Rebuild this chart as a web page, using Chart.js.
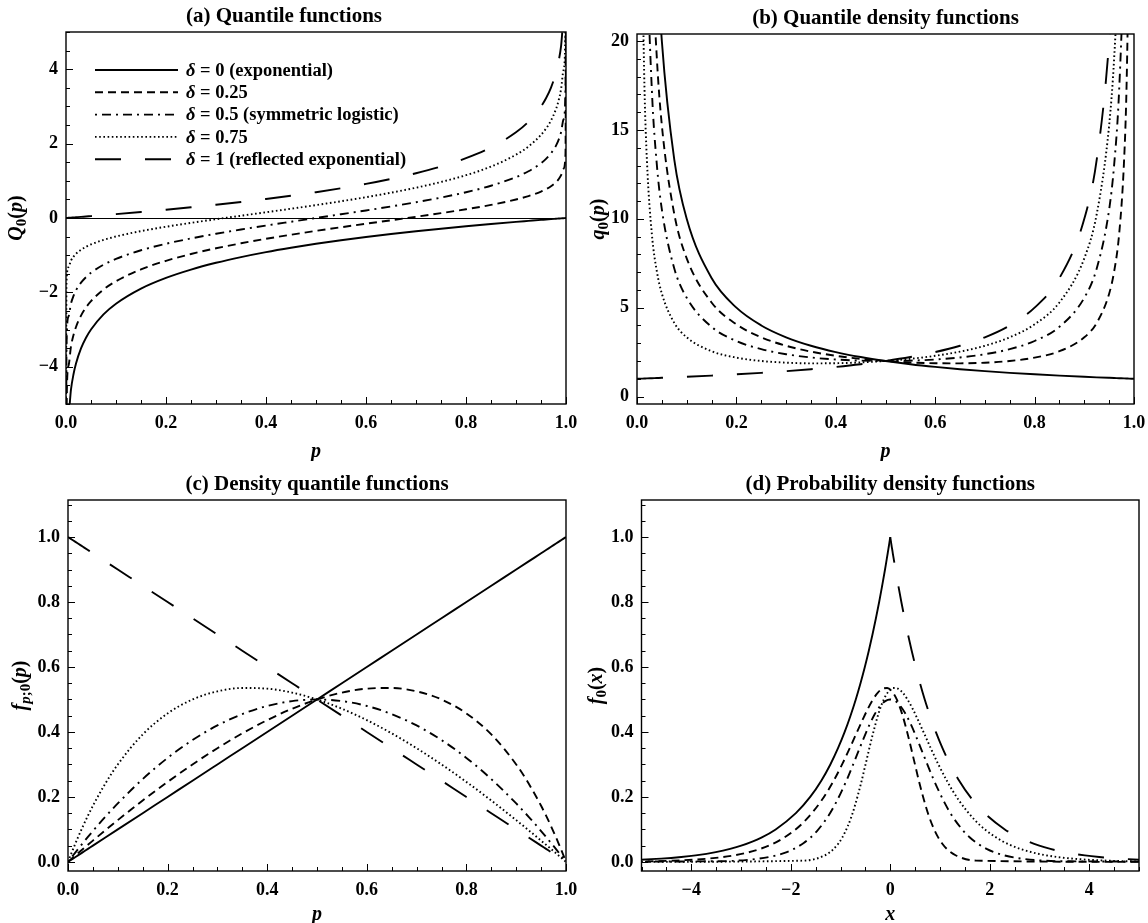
<!DOCTYPE html>
<html>
<head>
<meta charset="utf-8">
<script src="https://cdn.jsdelivr.net/npm/chart.js@4.4.1/dist/chart.umd.min.js"></script>
<style>
	html, body { margin: 0; padding: 0; background: #fff; }
	#wrap { position: relative; width: 1148px; height: 923px; overflow: hidden; }
	canvas { position: absolute; }
</style>
</head>
<body>
<div id="wrap">
	<canvas id="chartA" width="600" height="461" style="left:0;top:0"></canvas>
	<canvas id="chartC" width="600" height="462" style="left:0;top:461px"></canvas>
	<canvas id="chartB" width="574" height="461" style="left:574px;top:0"></canvas>
	<canvas id="chartD" width="574" height="462" style="left:574px;top:461px"></canvas>
</div>
<script>
// probability grid shared by every curve
const pValues = [1e-9, 0.001, 0.005, 0.01, 0.015, 0.02, 0.03, 0.04, 0.05, 0.075, 0.1, 0.15, 0.2, 0.25, 0.3, 0.35, 0.4, 0.45, 0.5,
	0.55, 0.6, 0.65, 0.7, 0.75, 0.8, 0.85, 0.9, 0.925, 0.95, 0.96, 0.97, 0.98, 0.985, 0.99, 0.995, 0.999, 0.999999999];

const seriesLabels = ['δ = 0 (exponential)', 'δ = 0.25', 'δ = 0.5 (symmetric logistic)', 'δ = 0.75', 'δ = 1 (reflected exponential)'];

// (a) quantile functions Q0(p)
const quantileD0 = [-20.723, -6.908, -5.298, -4.605, -4.200, -3.912, -3.507, -3.219, -2.996, -2.590, -2.303, -1.897, -1.609, -1.386, -1.204, -1.050, -0.916, -0.799, -0.693,
	-0.598, -0.511, -0.431, -0.357, -0.288, -0.223, -0.163, -0.105, -0.078, -0.051, -0.041, -0.030, -0.020, -0.015, -0.010, -0.005, -0.001, 0];
const quantileD025 = [-15.542, -5.181, -3.972, -3.451, -3.146, -2.929, -2.623, -2.404, -2.234, -1.923, -1.701, -1.382, -1.151, -0.968, -0.814, -0.680, -0.559, -0.450, -0.347,
	-0.249, -0.154, -0.061, 0.033, 0.131, 0.235, 0.352, 0.497, 0.589, 0.711, 0.774, 0.854, 0.963, 1.039, 1.144, 1.321, 1.726, 5.181];
const quantileD05 = [-10.362, -3.454, -2.647, -2.298, -2.093, -1.946, -1.739, -1.589, -1.473, -1.256, -1.099, -0.867, -0.693, -0.549, -0.424, -0.310, -0.203, -0.101, 0,
	0.101, 0.203, 0.310, 0.424, 0.549, 0.693, 0.867, 1.099, 1.256, 1.473, 1.589, 1.739, 1.946, 2.093, 2.298, 2.647, 3.454, 10.362];
const quantileD075 = [-5.181, -1.726, -1.321, -1.144, -1.039, -0.963, -0.854, -0.774, -0.711, -0.589, -0.497, -0.352, -0.235, -0.131, -0.033, 0.061, 0.154, 0.249, 0.347,
	0.450, 0.559, 0.680, 0.814, 0.968, 1.151, 1.382, 1.701, 1.923, 2.234, 2.404, 2.623, 2.929, 3.146, 3.451, 3.972, 5.181, 15.542];
const quantileD1 = [0, 0.001, 0.005, 0.010, 0.015, 0.020, 0.030, 0.041, 0.051, 0.078, 0.105, 0.163, 0.223, 0.288, 0.357, 0.431, 0.511, 0.598, 0.693,
	0.799, 0.916, 1.050, 1.204, 1.386, 1.609, 1.897, 2.303, 2.590, 2.996, 3.219, 3.507, 3.912, 4.200, 4.605, 5.298, 6.908, 20.723];

// (b) quantile density functions q0(p)
const qdensD0 = [null, 1000, 200, 100, 66.667, 50, 33.333, 25, 20, 13.333, 10, 6.667, 5, 4, 3.333, 2.857, 2.5, 2.222, 2,
	1.818, 1.667, 1.538, 1.429, 1.333, 1.25, 1.176, 1.111, 1.081, 1.053, 1.042, 1.031, 1.020, 1.015, 1.010, 1.005, 1.001, 1];
const qdensD025 = [null, 750.25, 150.25, 75.253, 50.254, 37.755, 25.258, 19.010, 15.263, 10.270, 7.778, 5.294, 4.063, 3.333, 2.857, 2.527, 2.292, 2.121, 2,
	1.919, 1.875, 1.868, 1.905, 2.0, 2.188, 2.549, 3.333, 4.144, 5.789, 7.031, 9.107, 13.265, 17.428, 25.758, 50.754, 250.75, null];
const qdensD05 = [null, 500.5, 100.5, 50.505, 33.841, 25.510, 17.182, 13.021, 10.526, 7.207, 5.556, 3.922, 3.125, 2.667, 2.381, 2.198, 2.083, 2.020, 2,
	2.020, 2.083, 2.198, 2.381, 2.667, 3.125, 3.922, 5.556, 7.207, 10.526, 13.021, 17.182, 25.510, 33.841, 50.505, 100.5, 500.5, null];
const qdensD075 = [null, 250.75, 50.754, 25.758, 17.428, 13.265, 9.107, 7.031, 5.789, 4.144, 3.333, 2.549, 2.188, 2.0, 1.905, 1.868, 1.875, 1.919, 2,
	2.121, 2.292, 2.527, 2.857, 3.333, 4.063, 5.294, 7.778, 10.270, 15.263, 19.010, 25.258, 37.755, 50.254, 75.253, 150.25, 750.25, null];
const qdensD1 = [1, 1.001, 1.005, 1.010, 1.015, 1.020, 1.031, 1.042, 1.053, 1.081, 1.111, 1.176, 1.25, 1.333, 1.429, 1.538, 1.667, 1.818, 2,
	2.222, 2.5, 2.857, 3.333, 4, 5, 6.667, 10, 13.333, 20, 25, 33.333, 50, 66.667, 100, 200, 1000, null];

// (c) density quantile functions f(Q(p)), also the heights in (d)
const dqfD0 = [1e-9, 0.001, 0.005, 0.01, 0.015, 0.02, 0.03, 0.04, 0.05, 0.075, 0.1, 0.15, 0.2, 0.25, 0.3, 0.35, 0.4, 0.45, 0.5,
	0.55, 0.6, 0.65, 0.7, 0.75, 0.8, 0.85, 0.9, 0.925, 0.95, 0.96, 0.97, 0.98, 0.985, 0.99, 0.995, 0.999, 1];
const dqfD025 = [1.3e-9, 0.0013, 0.0067, 0.0133, 0.0199, 0.0265, 0.0396, 0.0526, 0.0655, 0.0974, 0.1286, 0.1889, 0.2462, 0.3, 0.35, 0.3957, 0.4364, 0.4714, 0.5,
	0.5211, 0.5333, 0.5353, 0.525, 0.5, 0.4571, 0.3923, 0.3, 0.2413, 0.1727, 0.1422, 0.1098, 0.0754, 0.0574, 0.0388, 0.0197, 0.004, 4e-9];
const dqfD05 = [2e-9, 0.002, 0.00995, 0.0198, 0.02955, 0.0392, 0.0582, 0.0768, 0.095, 0.1388, 0.18, 0.255, 0.32, 0.375, 0.42, 0.455, 0.48, 0.495, 0.5,
	0.495, 0.48, 0.455, 0.42, 0.375, 0.32, 0.255, 0.18, 0.1388, 0.095, 0.0768, 0.0582, 0.0392, 0.02955, 0.0198, 0.00995, 0.002, 2e-9];
const dqfD075 = [4e-9, 0.004, 0.0197, 0.0388, 0.0574, 0.0754, 0.1098, 0.1422, 0.1727, 0.2413, 0.3, 0.3923, 0.4571, 0.5, 0.525, 0.5353, 0.5333, 0.5211, 0.5,
	0.4714, 0.4364, 0.3957, 0.35, 0.3, 0.2462, 0.1889, 0.1286, 0.0974, 0.0655, 0.0526, 0.0396, 0.0265, 0.0199, 0.0133, 0.0067, 0.0013, 1.3e-9];
const dqfD1 = [1, 0.999, 0.995, 0.99, 0.985, 0.98, 0.97, 0.96, 0.95, 0.925, 0.9, 0.85, 0.8, 0.75, 0.7, 0.65, 0.6, 0.55, 0.5,
	0.45, 0.4, 0.35, 0.3, 0.25, 0.2, 0.15, 0.1, 0.075, 0.05, 0.04, 0.03, 0.02, 0.015, 0.01, 0.005, 0.001, 1e-9];

// tick labels
const ticksP = [0, 0.2, 0.4, 0.6, 0.8, 1];
const ticksQ = [-4, -2, 0, 2, 4];
const ticksQdens = [0, 5, 10, 15, 20];
const ticksF = [0, 0.2, 0.4, 0.6, 0.8, 1];
const ticksX = [-4, -2, 0, 2, 4];

const quantiles = [quantileD0, quantileD025, quantileD05, quantileD075, quantileD1];
const qdens = [qdensD0, qdensD025, qdensD05, qdensD075, qdensD1];
const dqfs = [dqfD0, dqfD025, dqfD05, dqfD075, dqfD1];

// line dashing per delta, same order as the labels
const dashes = [[], [8, 5], [2, 5, 9, 5], [1.6, 2.6], [26, 24]];

const serif = '"Liberation Serif", "Times New Roman", serif';
const fIt = 'italic bold 20px ' + serif;
const fBd = 'bold 20px ' + serif;
const fSub = 'bold 15px ' + serif;
const fSubIt = 'italic bold 15px ' + serif;

const pts = (xs, ys) => xs.map((x, i) => ({x: x, y: ys[i]}));
const fmt1 = (v) => (v < 0 ? '\u2212' : '') + Math.abs(v).toFixed(1);
const fmtInt = (v) => (v < 0 ? '\u2212' : '') + Math.abs(v);

function drawRich(ctx, parts, x, y, align){
	let w = 0;
	parts.forEach((p) => { ctx.font = p[1]; w += ctx.measureText(p[0]).width; });
	let cx = align === 'center' ? x - w / 2 : x;
	parts.forEach((p) => {
		ctx.font = p[1];
		ctx.fillText(p[0], cx, y + (p[2] || 0));
		cx += ctx.measureText(p[0]).width;
	});
}

function minorValues(min, max, step){
	const out = [];
	for (let v = Math.ceil(min / step - 1e-9) * step; v <= max + 1e-9; v += step){
		out.push(v);
	}
	return out;
}

const panelDecor = {
	id: 'panelDecor',
	afterDraw(chart, args, opts){
		const ctx = chart.ctx;
		const a = chart.chartArea;
		const xs = chart.scales.x, ys = chart.scales.y;
		ctx.save();
		ctx.fillStyle = '#000';
		ctx.strokeStyle = '#000';

		if (opts.zeroLine){
			const y0 = Math.round(ys.getPixelForValue(0)) + 0.5;
			ctx.lineWidth = 1;
			ctx.beginPath(); ctx.moveTo(a.left, y0); ctx.lineTo(a.right, y0); ctx.stroke();
		}

		// inward ticks, major and minor
		ctx.lineWidth = 1;
		ctx.beginPath();
		const tickX = (vals, len) => vals.forEach((v) => {
			const px = Math.round(xs.getPixelForValue(v)) + 0.5;
			ctx.moveTo(px, a.bottom); ctx.lineTo(px, a.bottom - len);
		});
		const tickY = (vals, len) => vals.forEach((v) => {
			const py = Math.round(ys.getPixelForValue(v)) + 0.5;
			ctx.moveTo(a.left, py); ctx.lineTo(a.left + len, py);
		});
		tickX(minorValues(xs.min, xs.max, opts.xMinor), 4);
		tickX(opts.xMajor, 7);
		tickY(minorValues(ys.min, ys.max, opts.yMinor), 4);
		tickY(opts.yMajor, 7);
		ctx.stroke();

		// frame
		ctx.lineWidth = 1.4;
		ctx.strokeRect(a.left, a.top, a.right - a.left, a.bottom - a.top);

		ctx.textBaseline = 'middle';
		// title
		drawRich(ctx, [[opts.title, 'bold 21px ' + serif]], opts.titleX || (a.left + a.right) / 2, a.top - 15, 'center');
		// x title
		drawRich(ctx, opts.xTitle, (a.left + a.right) / 2, a.bottom + opts.xTitleDy, 'center');
		// y title, rotated
		ctx.save();
		ctx.translate(opts.yTitleX, (a.top + a.bottom) / 2);
		ctx.rotate(-Math.PI / 2);
		drawRich(ctx, opts.yTitle, 0, 0, 'center');
		ctx.restore();

		// legend inside panel (a)
		if (opts.legend){
			const lg = opts.legend;
			chart.data.datasets.forEach((ds, i) => {
				const yy = lg.top + i * lg.row;
				ctx.save();
				ctx.lineWidth = ds.borderWidth;
				ctx.setLineDash(ds.borderDash);
				ctx.beginPath(); ctx.moveTo(lg.x1, yy); ctx.lineTo(lg.x2, yy); ctx.stroke();
				ctx.restore();
				const txt = ds.label;
				drawRich(ctx, [[txt.slice(0, 1), 'italic bold 18.5px ' + serif], [txt.slice(1), 'bold 18.5px ' + serif]], lg.textX, yy + 1, 'left');
			});
		}
		ctx.restore();
	}
};

function makeDatasets(xArrays, yArrays){
	return yArrays.map((ys, i) => ({
		label: seriesLabels[i],
		data: pts(Array.isArray(xArrays[0]) ? xArrays[i] : xArrays, ys),
		showLine: true,
		borderColor: '#000',
		borderWidth: 1.9,
		borderDash: dashes[i],
		pointRadius: 0,
		fill: false,
		cubicInterpolationMode: 'monotone'
	}));
}

function makePanel(id, cfg){
	const tickFont = {family: serif, weight: 'bold', size: 18};
	return new Chart(document.getElementById(id), {
		type: 'scatter',
		data: {datasets: cfg.datasets},
		options: {
			responsive: false,
			animation: false,
			devicePixelRatio: 1,
			layout: {padding: cfg.padding},
			plugins: {
				legend: {display: false},
				tooltip: {enabled: false},
				panelDecor: cfg.decor
			},
			scales: {
				x: {
					type: 'linear', min: cfg.xMin, max: cfg.xMax,
					grid: {display: false, drawTicks: false},
					border: {display: false},
					afterBuildTicks: (s) => { s.ticks = cfg.decor.xMajor.map((v) => ({value: v})); },
					afterFit: (s) => { s.height = 40; s.paddingLeft = 0; s.paddingRight = 0; },
					ticks: {font: tickFont, color: '#000', padding: 9, maxRotation: 0, autoSkip: false, callback: cfg.xFmt}
				},
				y: {
					type: 'linear', min: cfg.yMin, max: cfg.yMax,
					grid: {display: false, drawTicks: false},
					border: {display: false},
					afterBuildTicks: (s) => { s.ticks = cfg.decor.yMajor.map((v) => ({value: v})); },
					afterFit: (s) => { s.width = cfg.yWidth; s.paddingTop = 0; s.paddingBottom = 0; },
					ticks: {font: tickFont, color: '#000', padding: 8, autoSkip: false, callback: cfg.yFmt}
				}
			}
		},
		plugins: [panelDecor]
	});
}

makePanel('chartA', {
	datasets: makeDatasets(pValues, quantiles),
	padding: {left: 0, top: 32, right: 34, bottom: 17},
	yWidth: 66,
	xMin: 0, xMax: 1, yMin: -5, yMax: 5,
	xFmt: fmt1, yFmt: fmtInt,
	decor: {
		title: '(a) Quantile functions', titleX: 284,
		xTitle: [['p', fIt]], xTitleDy: 48,
		yTitle: [['Q', fIt], ['0', fSub, 5], ['(', fBd], ['p', fIt], [')', fBd]],
		yTitleX: 17,
		xMajor: ticksP, xMinor: 0.05, yMajor: ticksQ, yMinor: 0.5,
		zeroLine: true,
		legend: {x1: 95, x2: 178, textX: 186, top: 70, row: 22.3}
	}
});

makePanel('chartB', {
	datasets: makeDatasets(pValues, qdens),
	padding: {left: 0, top: 34, right: 14, bottom: 17},
	yWidth: 63,
	xMin: 0, xMax: 1, yMin: -0.42, yMax: 20.4,
	xFmt: fmt1, yFmt: fmtInt,
	decor: {
		title: '(b) Quantile density functions',
		xTitle: [['p', fIt]], xTitleDy: 48,
		yTitle: [['q', fIt], ['0', fSub, 5], ['(', fBd], ['p', fIt], [')', fBd]],
		yTitleX: 25,
		xMajor: ticksP, xMinor: 0.05, yMajor: ticksQdens, yMinor: 1
	}
});

makePanel('chartC', {
	datasets: makeDatasets(pValues, dqfs),
	padding: {left: 0, top: 39, right: 34, bottom: 12},
	yWidth: 68,
	xMin: 0, xMax: 1, yMin: -0.028, yMax: 1.114,
	xFmt: fmt1, yFmt: fmt1,
	decor: {
		title: '(c) Density quantile functions',
		xTitle: [['p', fIt]], xTitleDy: 44,
		yTitle: [['f', fIt], ['p', fSubIt, 5], [';0', fSub, 5], ['(', fBd], ['p', fIt], [')', fBd]],
		yTitleX: 21,
		xMajor: ticksP, xMinor: 0.05, yMajor: ticksF, yMinor: 0.05
	}
});

makePanel('chartD', {
	datasets: makeDatasets(quantiles, dqfs),
	padding: {left: 0, top: 39, right: 9, bottom: 12},
	yWidth: 67.5,
	xMin: -5, xMax: 5, yMin: -0.028, yMax: 1.114,
	xFmt: fmtInt, yFmt: fmt1,
	decor: {
		title: '(d) Probability density functions',
		xTitle: [['x', fIt]], xTitleDy: 44,
		yTitle: [['f', fIt], ['0', fSub, 5], ['(', fBd], ['x', fIt], [')', fBd]],
		yTitleX: 23,
		xMajor: ticksX, xMinor: 0.5, yMajor: ticksF, yMinor: 0.05
	}
});
</script>
</body>
</html>
